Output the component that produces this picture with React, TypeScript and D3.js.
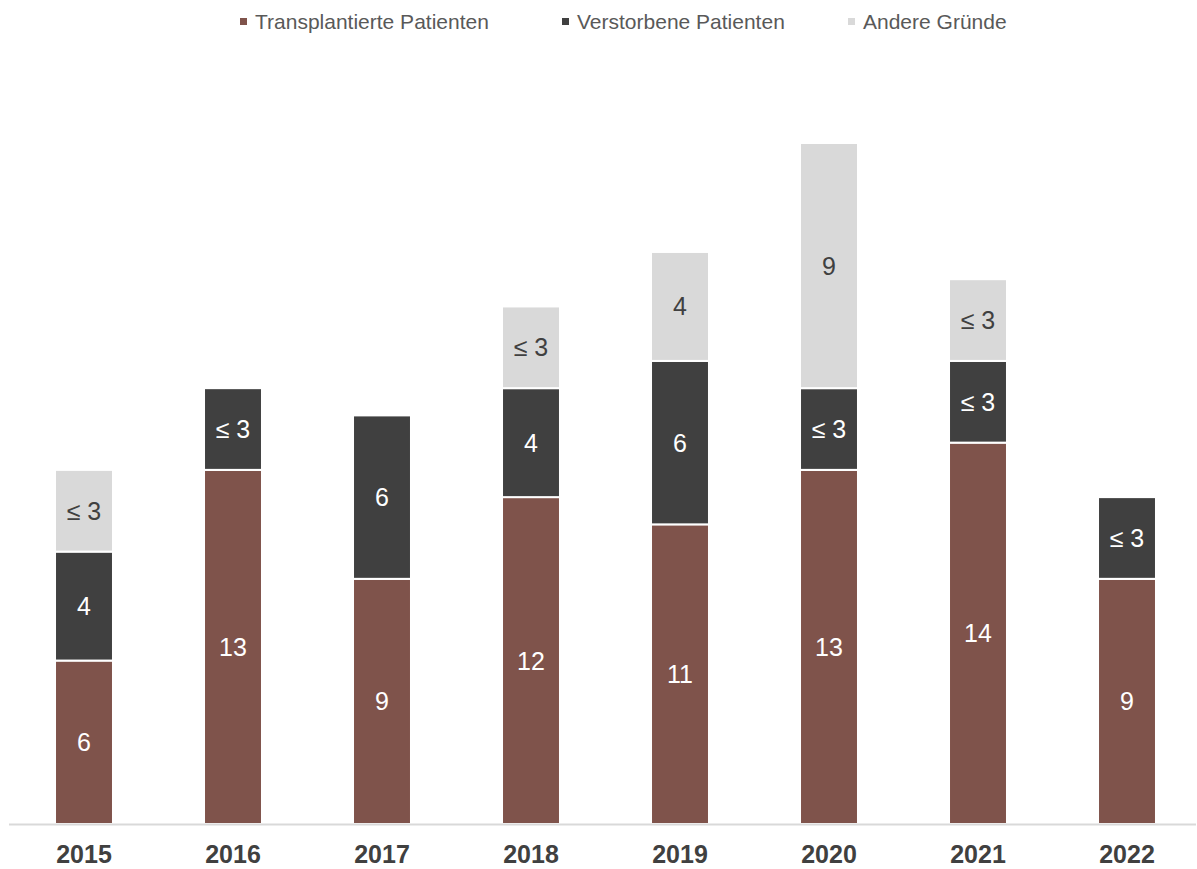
import React from "react";
import * as d3 from "d3";

const years = ["2015", "2016", "2017", "2018", "2019", "2020", "2021", "2022"];
const transplantiert = [6, 13, 9, 12, 11, 13, 14, 9];
const verstorben = [4, 3, 6, 4, 6, 3, 3, 3];
const andere = [3, 0, 0, 3, 4, 9, 3, 0];
const transplantiertLabels = ["6", "13", "9", "12", "11", "13", "14", "9"];
const verstorbenLabels = ["4", "≤ 3", "6", "4", "6", "≤ 3", "≤ 3", "≤ 3"];
const andereLabels = ["≤ 3", "", "", "≤ 3", "4", "9", "≤ 3", ""];
const seriesNames = ["Transplantierte Patienten", "Verstorbene Patienten", "Andere Gründe"];
const colors = ["#7f534b", "#404040", "#d9d9d9"];
const textColors = ["#ffffff", "#ffffff", "#404040"];

export default function App() {
  const W = 1197, H = 869;
  const x = d3.scaleBand().domain(years).range([9.5, 1201.5]).paddingInner(0.611).paddingOuter(0.3055);
  const y = d3.scaleLinear().domain([0, 25]).range([824, 143]);
  const rows = years.map((yr, i) => ({ yr, v: [transplantiert[i], verstorben[i], andere[i]] }));
  const stack = d3.stack<any>().keys(["0", "1", "2"]).value((d: any, k: string) => d.v[+k]);
  const stacked = stack(rows as any);
  const labels = [transplantiertLabels, verstorbenLabels, andereLabels];
  const font = "'Liberation Sans', Arial, sans-serif";
  const legendX = [245, 567, 853];
  return (
    <svg width={W} height={H} style={{ position: "absolute", left: 0, top: 0 }} fontFamily={font}>
      {seriesNames.map((n, i) => (
        <g key={n}>
          <rect x={legendX[i] - 5} y={18} width={7} height={7} fill={colors[i]} />
          <text x={legendX[i] + 10} y={29} fontSize={21} fill="#595959">{n}</text>
        </g>
      ))}
      {stacked.map((s, si) => (
        <g key={si}>
          {s.map((d, i) => {
            const v = d[1] - d[0];
            if (v <= 0) return null;
            const x0 = x(years[i])!;
            const yTop = y(d[1]);
            const yBot = y(d[0]);
            return (
              <g key={i}>
                <rect x={x0} y={yTop} width={x.bandwidth()} height={yBot - yTop} fill={colors[si]} stroke="#ffffff" strokeWidth={2} />
                <text x={x0 + x.bandwidth() / 2} y={(yTop + yBot) / 2 + 9} textAnchor="middle" fontSize={25} fill={textColors[si]}>
                  {labels[si][i]}
                </text>
              </g>
            );
          })}
        </g>
      ))}
      <line x1={9} x2={1196} y1={824.5} y2={824.5} stroke="#d9d9d9" strokeWidth={2} />
      {years.map((yr) => (
        <text key={yr} x={x(yr)! + x.bandwidth() / 2} y={863} textAnchor="middle" fontSize={25} fontWeight="bold" fill="#404040">
          {yr}
        </text>
      ))}
    </svg>
  );
}
